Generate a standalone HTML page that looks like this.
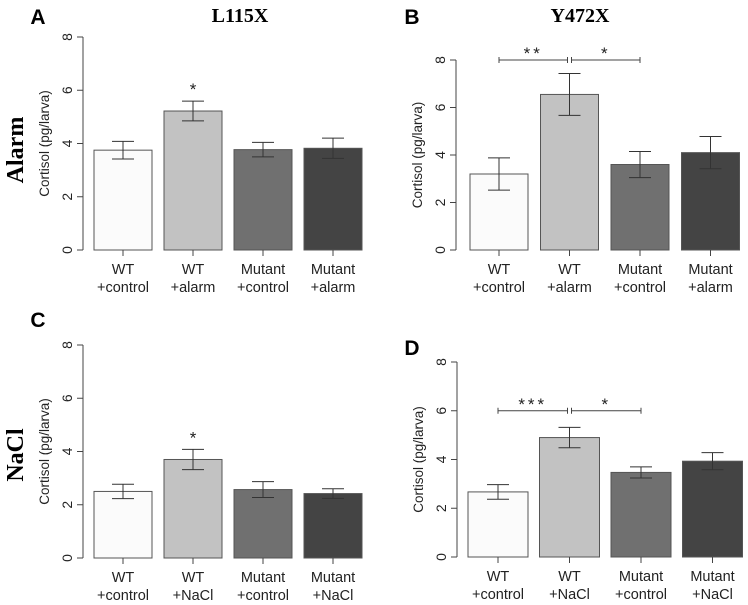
<!DOCTYPE html>
<html><head><meta charset="utf-8"><style>
body{margin:0;background:#fff}
svg{display:block;font-family:"Liberation Sans",sans-serif}
</style></head><body>
<svg id="fig" width="748" height="605" viewBox="0 0 748 605">
<text x="38" y="24" font-size="21" font-weight="bold" text-anchor="middle">A</text>
<text x="412" y="24" font-size="21" font-weight="bold" text-anchor="middle">B</text>
<text x="38" y="327" font-size="21" font-weight="bold" text-anchor="middle">C</text>
<text x="412" y="355" font-size="21" font-weight="bold" text-anchor="middle">D</text>
<text x="240" y="22" font-size="20" font-weight="bold" font-family="Liberation Serif,serif" text-anchor="middle">L115X</text>
<text x="580" y="22" font-size="20" font-weight="bold" font-family="Liberation Serif,serif" text-anchor="middle">Y472X</text>
<text transform="translate(23,150) rotate(-90)" font-size="24" font-weight="bold" font-family="Liberation Serif,serif" text-anchor="middle">Alarm</text>
<text transform="translate(23,455) rotate(-90)" font-size="24" font-weight="bold" font-family="Liberation Serif,serif" text-anchor="middle">NaCl</text>
</svg>
<script>
const catsAlarm=[["WT","+control"],["WT","+alarm"],["Mutant","+control"],["Mutant","+alarm"]];
const catsNacl=[["WT","+control"],["WT","+NaCl"],["Mutant","+control"],["Mutant","+NaCl"]];
const valsA=[3.75,5.22,3.77,3.82];
const errA=[0.33,0.37,0.27,0.38];
const valsB=[3.2,6.55,3.6,4.1];
const errB=[0.68,0.88,0.55,0.68];
const valsC=[2.5,3.7,2.57,2.42];
const errC=[0.27,0.38,0.3,0.18];
const valsD=[2.67,4.9,3.47,3.93];
const errD=[0.3,0.42,0.23,0.35];
const yTicks=[0,2,4,6,8];
const fills=["#fbfbfb","#c2c2c2","#707070","#444444"];
const NS="http://www.w3.org/2000/svg";
const svg=document.getElementById('fig');
function mk(tag,attrs,parent){const e=document.createElementNS(NS,tag);for(const k in attrs)e.setAttribute(k,attrs[k]);(parent||svg).appendChild(e);return e;}
function panel(id,cfg,cats,vals,errs,stars,brackets){
  const g=mk('g',{});
  
  
  const y=v=>cfg.y0-(v/8)*(cfg.y0-cfg.y8);
  const bx=i=>cfg.x0+i*cfg.step;
  const ax=mk('line',{x1:cfg.ax,x2:cfg.ax,y1:y(0),y2:y(8),stroke:'#444'},g);
  
  
  yTicks.forEach(t=>{
    mk('line',{x1:cfg.ax-6,x2:cfg.ax,y1:y(t),y2:y(t),stroke:'#444'},g);
    const tx=mk('text',{transform:`translate(${cfg.ax-11},${y(t)}) rotate(-90)`,'font-size':14,'text-anchor':'middle',fill:'#222'},g);
    tx.textContent=t;
    
    
  });
  const yt=mk('text',{transform:`translate(${cfg.ax-34},${(y(0)+y(8))/2}) rotate(-90)`,'font-size':13.5,'text-anchor':'middle',fill:'#222'},g);
  yt.textContent='Cortisol (pg/larva)';
  
  
  vals.forEach((v,i)=>{
    const r=mk('rect',{x:bx(i),y:y(v),width:cfg.w,height:y(0)-y(v),fill:fills[i],stroke:'#555'},g);
    
    
    const cx=bx(i)+cfg.w/2;
    const e=mk('path',{d:`M${cx},${y(v-errs[i])}V${y(v+errs[i])}M${cx-11},${y(v-errs[i])}H${cx+11}M${cx-11},${y(v+errs[i])}H${cx+11}`,stroke:'#333',fill:'none'},g);
    
    
    mk('line',{x1:cx,x2:cx,y1:y(0),y2:y(0)+6,stroke:'#444'},g);
    cats[i].forEach((s,k)=>{
      const t=mk('text',{x:cx,y:y(0)+24+k*18,'font-size':14.5,'text-anchor':'middle',fill:'#222'},g);
      t.textContent=s;
      
      
    });
    if(stars&&stars[i]){
      const t=mk('text',{x:cx,y:y(v+errs[i])-6,'font-size':17,'text-anchor':'middle',fill:'#222'},g);
      t.textContent=stars[i];
      
      
    }
  });
  (brackets||[]).forEach(b=>{
    const x1=bx(b[0])+cfg.w/2+(b[0]===1?2:0),x2=bx(b[1])+cfg.w/2-(b[1]===1?2:0),yy=y(b[2]);
    const p=mk('path',{d:`M${x1},${yy}H${x2}M${x1},${yy-3}V${yy+3}M${x2},${yy-3}V${yy+3}`,stroke:'#444',fill:'none'},g);
    
    
    const t=mk('text',{x:(x1+x2)/2,y:yy-1,'font-size':17,'text-anchor':'middle',fill:'#222','letter-spacing':'3'},g);
    t.textContent=b[3];
    
    
  });
}
panel('panel-a',{ax:83,x0:94,step:70,w:58,y0:250,y8:37},catsAlarm,valsA,errA,[null,'*',null,null]);
panel('panel-b',{ax:456,x0:470,step:70.5,w:58,y0:250,y8:60},catsAlarm,valsB,errB,null,[[0,1,8,'**'],[1,2,8,'*']]);
panel('panel-c',{ax:83,x0:94,step:70,w:58,y0:558,y8:345},catsNacl,valsC,errC,[null,'*',null,null]);
panel('panel-d',{ax:457,x0:468,step:71.5,w:60,y0:557,y8:362},catsNacl,valsD,errD,null,[[0,1,6,'***'],[1,2,6,'*']]);
</script>
</body></html>
